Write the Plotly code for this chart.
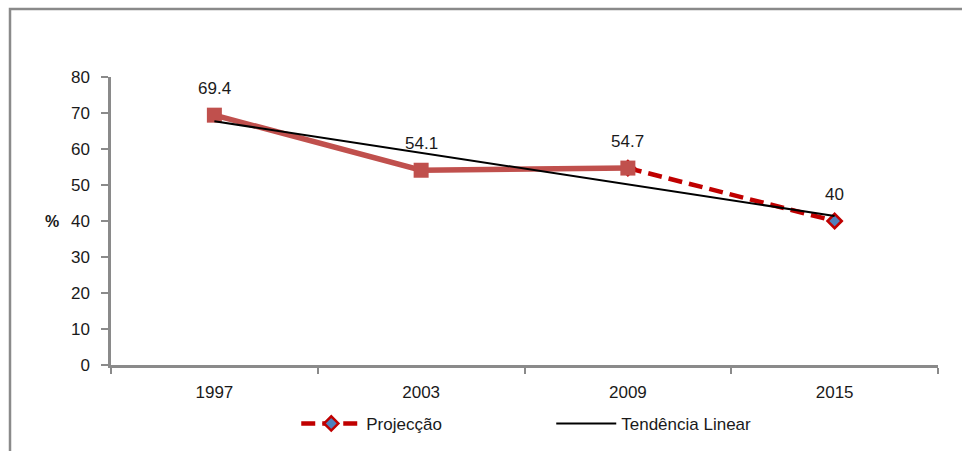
import plotly.graph_objects as go

categories = ["1997", "2003", "2009", "2015"]
hist_years = ["1997", "2003", "2009"]
hist_values = [69.4, 54.1, 54.7]
proj_years = ["2009", "2015"]
proj_values = [54.7, 40]
trend_years = ["1997", "2015"]
trend_values = [67.7, 41.4]
label_years = ["1997", "2003", "2009", "2015"]
label_values = [69.4, 54.1, 54.7, 40]
label_texts = ["69.4", "54.1", "54.7", "40"]
y_ticks = [0, 10, 20, 30, 40, 50, 60, 70, 80]

FONT = "Liberation Sans, Arial, sans-serif"
AXIS_GRAY = "#8a8a8a"
TXT = "#1a1a1a"

fig = go.Figure()

# Projection (dashed) with diamond markers
fig.add_trace(go.Scatter(
    x=proj_years, y=proj_values, mode="lines+markers", name="Projecção",
    line=dict(color="#C00000", width=4.5, dash="14px,7px"),
    marker=dict(symbol="diamond", size=11, color="#4F81BD",
                line=dict(color="#C00000", width=2.5)),
))

# Historical series (drawn on top, hides diamond at 2009)
fig.add_trace(go.Scatter(
    x=hist_years, y=hist_values, mode="lines+markers", name="Histórico",
    line=dict(color="#C0504D", width=5.5),
    marker=dict(symbol="square", size=15, color="#C0504D"),
    showlegend=False,
))

# Linear trend
fig.add_trace(go.Scatter(
    x=trend_years, y=trend_values, mode="lines", name="Tendência Linear",
    line=dict(color="#000000", width=2),
))

for xv, yv, t in zip(label_years, label_values, label_texts):
    fig.add_annotation(x=categories.index(xv), y=yv, text=t, showarrow=False,
                       yshift=27, font=dict(family=FONT, size=17, color=TXT))

fig.add_annotation(xref="paper", yref="paper", x=-0.071, y=0.5, xanchor="center",
                   text="<b>%</b>", showarrow=False,
                   font=dict(family=FONT, size=16, color=TXT))

# outer frame
fig.add_shape(type="rect", xref="paper", yref="paper",
              x0=(10 - 111) / 827, x1=(990 - 111) / 827,
              y0=(365 - 480) / 288, y1=(365 - 9) / 288,
              line=dict(color=AXIS_GRAY, width=2.5), layer="below")

fig.update_layout(
    width=962, height=451,
    margin=dict(l=111, r=24, t=77, b=86, autoexpand=False),
    paper_bgcolor="white", plot_bgcolor="white",
    font=dict(family=FONT, size=17, color=TXT),
    legend=dict(orientation="h", x=0.224, y=-0.142, xanchor="left", yanchor="top",
                entrywidth=180, entrywidthmode="pixels", itemwidth=60,
                font=dict(family=FONT, size=17, color=TXT),
                traceorder="normal"),
    xaxis=dict(type="category", categoryorder="array", categoryarray=categories,
               range=[-0.5, 3.5], tickson="boundaries", ticks="outside", ticklen=6,
               tickwidth=2, tickcolor=AXIS_GRAY, showline=True, linecolor=AXIS_GRAY,
               linewidth=2.5, showgrid=False, zeroline=False, ticklabelstandoff=10,
               tickfont=dict(family=FONT, size=17, color=TXT)),
    yaxis=dict(range=[0, 80], tickvals=y_ticks, ticks="outside", ticklen=7,
               tickwidth=2, tickcolor=AXIS_GRAY, showline=True, linecolor=AXIS_GRAY,
               linewidth=2.5, showgrid=False, zeroline=False, ticklabelstandoff=8,
               tickfont=dict(family=FONT, size=17, color=TXT)),
)

fig.write_html("out.html")
